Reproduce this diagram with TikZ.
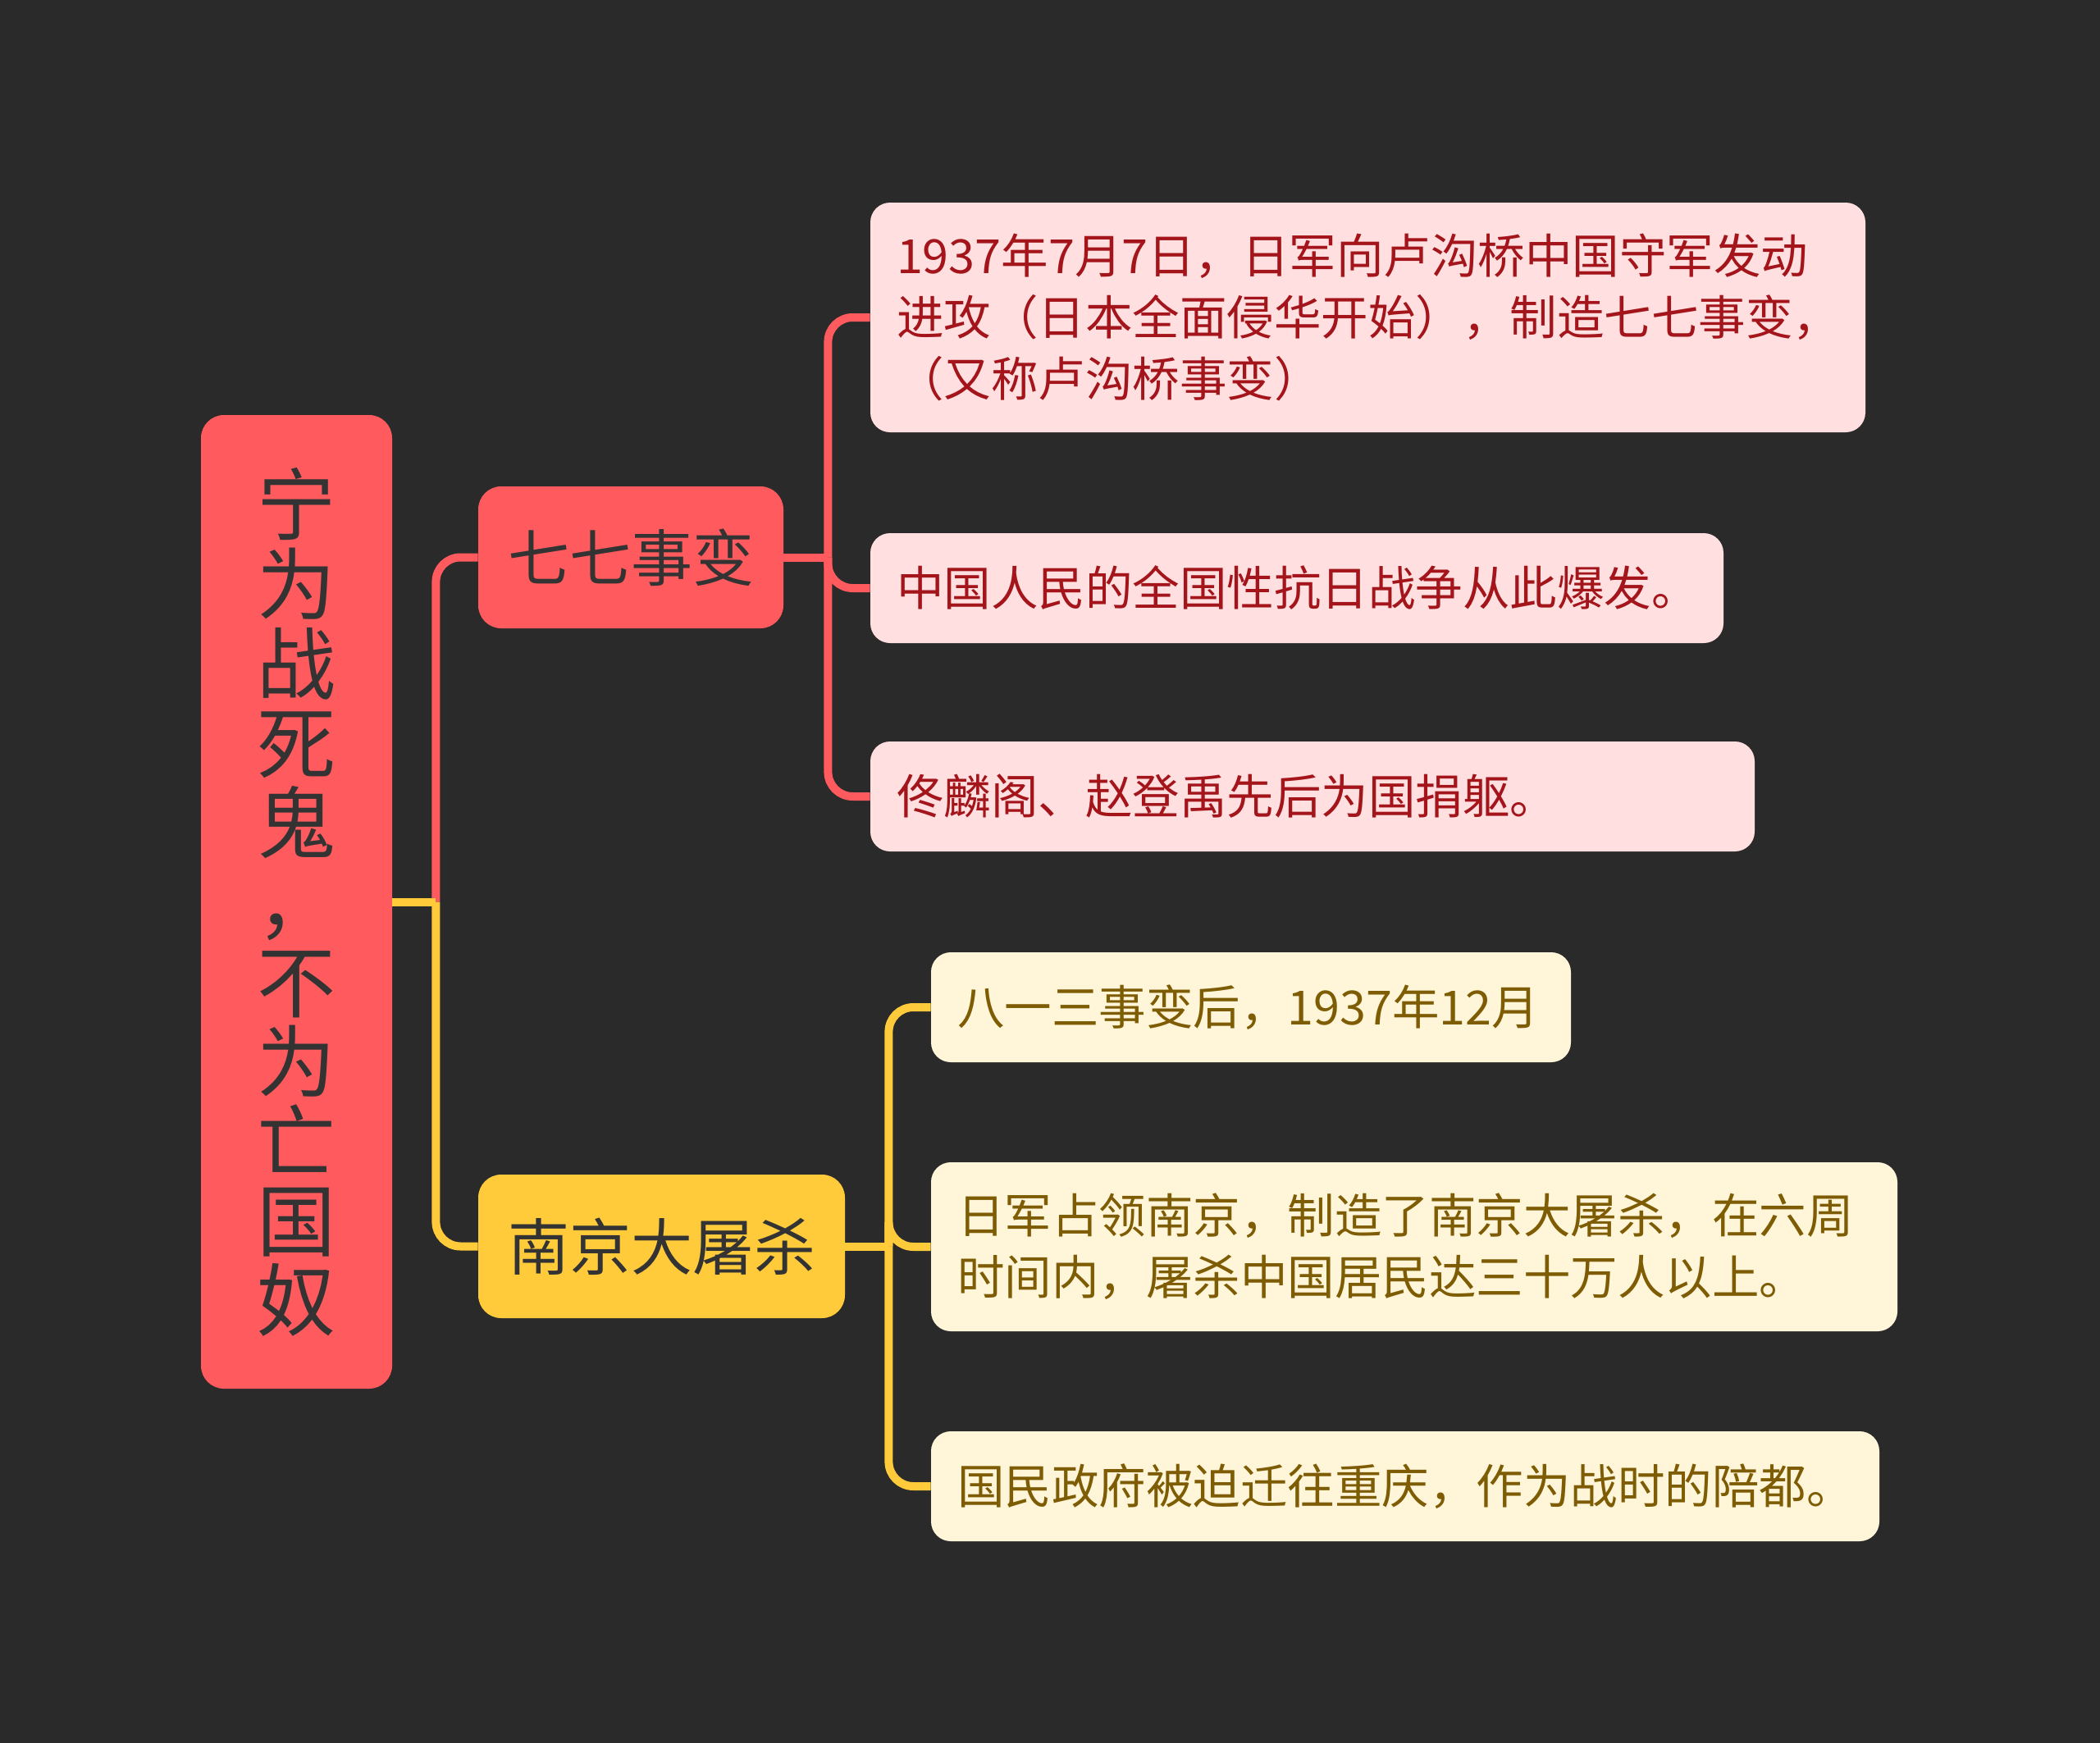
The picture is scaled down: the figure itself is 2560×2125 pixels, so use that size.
\documentclass[tikz,border=0pt]{standalone}
\usepackage{fontspec}
\setmainfont{Noto Sans CJK SC}
\definecolor{bg}{HTML}{2A2A2A}
\definecolor{cred}{HTML}{FF5A5D}
\definecolor{cyel}{HTML}{FFCB3B}
\definecolor{pinkfill}{HTML}{FFDFE0}
\definecolor{redtext}{HTML}{A3151B}
\definecolor{creamfill}{HTML}{FFF5D9}
\definecolor{browntext}{HTML}{7E5C04}
\definecolor{darktext}{HTML}{333333}
\tikzset{
  rootbox/.style={fill=cred, rounded corners=14pt, inner sep=0pt, text=darktext, align=center, font=\fontsize{48pt}{48.5pt}\selectfont},
  branchred/.style={fill=cred, rounded corners=14pt, inner sep=0pt, text=darktext, font=\fontsize{37.5pt}{45pt}\selectfont},
  branchyel/.style={fill=cyel, rounded corners=14pt, inner sep=0pt, text=darktext, font=\fontsize{37.5pt}{45pt}\selectfont},
  redleaf/.style={fill=pinkfill, rounded corners=12pt, inner xsep=16pt, inner ysep=0pt, text=redtext, align=left, font=\fontsize{28.75pt}{37.5pt}\selectfont},
  yelleaf/.style={fill=creamfill, rounded corners=12pt, inner xsep=16pt, inner ysep=0pt, text=browntext, align=left, font=\fontsize{28.75pt}{37.5pt}\selectfont},
  redline/.style={draw=cred, line width=5pt},
  yelline/.style={draw=cyel, line width=5pt},
}
\begin{document}
\begin{tikzpicture}[x=0.5pt,y=-0.5pt]
\fill[bg] (0,0) rectangle (2560,2125);
\useasboundingbox (0,0) rectangle (2560,2125);

\node[rootbox, minimum width=116.5pt, minimum height=593.5pt] (root) at (361.5,1099.5)
  {宁\\为\\战\\死\\鬼\\，\\不\\为\\亡\\国\\奴};

\node[branchred, minimum width=186pt, minimum height=86.5pt] (b1) at (769,679.5) {七七事变};
\node[branchyel, minimum width=223.5pt, minimum height=87.5pt] (b2) at (806.5,1519.5) {南京大屠杀};

\node[redleaf, text width=574.5pt, minimum height=140pt] (l1) at (1667.5,387)
  {1937年7月7日，日军向卢沟桥中国守军发动\\进攻（日本全面侵华开始），制造七七事变，\\（又称卢沟桥事变）};
\node[redleaf, text width=488pt, minimum height=67pt] (l2) at (1581,717)
  {中国人民的全国性抗日战争从此爆发。};
\node[redleaf, text width=507pt, minimum height=67pt] (l3) at (1600,971)
  {佟麟阁、赵登禹先后为国捐躯。};

\node[yelleaf, text width=358pt, minimum height=67pt] (l4) at (1525,1228)
  {八一三事变后，1937年12月};
\node[yelleaf, text width=557pt, minimum height=103pt] (l5) at (1724,1520)
  {日军占领南京，制造了南京大屠杀，在六周\\时间内，屠杀中国居民达三十万人以上。};
\node[yelleaf, text width=546pt, minimum height=67pt] (l6) at (1713,1812)
  {国民政府被迫迁往重庆，作为战时的陪都。};

% root connectors
\path (root.east) ++(53,0) coordinate (j0);
\draw[redline] (root.east) -- (j0);
\draw[redline, rounded corners=15pt] (j0) |- (b1.west);
\draw[yelline] (root.east) -- (j0);
\draw[yelline, rounded corners=15pt] (j0) |- (b2.west);

% branch 1 connectors
\path (b1.east) ++(54,0) coordinate (j1);
\draw[redline] (b1.east) -- (j1);
\draw[redline, rounded corners=15pt] (j1) |- (l1.west);
\draw[redline, rounded corners=15pt] (j1) |- (l2.west);
\draw[redline, rounded corners=15pt] (j1) |- (l3.west);

% branch 2 connectors
\path (b2.east) ++(53,0) coordinate (j2);
\draw[yelline] (b2.east) -- (j2);
\draw[yelline, rounded corners=15pt] (j2) |- (l4.west);
\draw[yelline, rounded corners=15pt] (j2) |- (l5.west);
\draw[yelline, rounded corners=15pt] (j2) |- (l6.west);
\end{tikzpicture}
\end{document}
